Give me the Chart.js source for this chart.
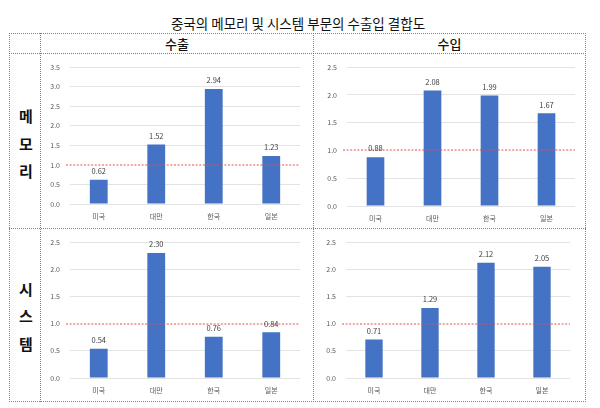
<!DOCTYPE html>
<html><head><meta charset="utf-8">
<script src="https://cdn.jsdelivr.net/npm/chart.js@4/dist/chart.umd.min.js"></script>
<style>
html,body{margin:0;padding:0;background:#fff;width:600px;height:408px;overflow:hidden;font-family:"Noto Sans CJK KR","Noto Sans",sans-serif;}
.hl{position:absolute;height:0;border-top:1px dotted #7f7f7f;}
.vl{position:absolute;width:0;border-left:1px dotted #7f7f7f;}
.title{position:absolute;left:0;width:596px;top:14px;text-align:center;font-size:13.5px;color:#111;line-height:18px;}
.hdr{position:absolute;top:35px;font-size:13px;color:#111;text-align:center;line-height:17px;font-weight:500;}
.row{position:absolute;left:13px;width:26px;text-align:center;font-size:15px;font-weight:700;color:#111;line-height:15px;}
canvas{position:absolute;}
</style></head>
<body>
<div class="title">중국의 메모리 및 시스템 부문의 수출입 결합도</div>
<div class="hl" style="left:9px;width:577px;top:33px"></div>
<div class="hl" style="left:9px;width:577px;top:53px"></div>
<div class="hl" style="left:9px;width:577px;top:228px"></div>
<div class="hl" style="left:9px;width:577px;top:401px"></div>
<div class="vl" style="left:9px;top:33px;height:369px"></div>
<div class="vl" style="left:40px;top:33px;height:369px"></div>
<div class="vl" style="left:313px;top:33px;height:369px"></div>
<div class="vl" style="left:585px;top:33px;height:369px"></div>
<div class="hdr" style="left:41px;width:272px">수출</div>
<div class="hdr" style="left:314px;width:271px">수입</div>
<div class="row" style="top:108px">메</div>
<div class="row" style="top:136px">모</div>
<div class="row" style="top:163px">리</div>
<div class="row" style="top:281px">시</div>
<div class="row" style="top:308px">스</div>
<div class="row" style="top:336px">템</div>

<canvas id="c1" width="254" height="171" style="left:46px;top:53px"></canvas>
<canvas id="c2" width="252" height="173" style="left:323px;top:53px"></canvas>
<canvas id="c3" width="254" height="170" style="left:46px;top:228px"></canvas>
<canvas id="c4" width="248" height="170" style="left:322px;top:228px"></canvas>

<script>
const categories = ['미국','대만','한국','일본'];
const memoryExport = [0.62, 1.52, 2.94, 1.23];
const memoryImport = [0.88, 2.08, 1.99, 1.67];
const systemExport = [0.54, 2.30, 0.76, 0.84];
const systemImport = [0.71, 1.29, 2.12, 2.05];
const referenceLevel = 1.0;
const yMaxMemoryExport = 3.5;
const yMaxOthers = 2.5;

const FONT = '"Noto Sans CJK KR","Noto Sans",sans-serif';

const refLinePlugin = {
  id:'refLine',
  afterDatasetsDraw(chart){
    const {ctx, chartArea, scales} = chart;
    const y = Math.round(scales.y.getPixelForValue(referenceLevel));
    ctx.save();
    ctx.strokeStyle = '#e05050';
    ctx.lineWidth = 1.1;
    ctx.setLineDash([2,1.6]);
    ctx.beginPath();
    ctx.moveTo(chartArea.left - 4, y);
    ctx.lineTo(chartArea.right + 2, y);
    ctx.stroke();
    ctx.restore();
  }
};
const valueLabelPlugin = {
  id:'valueLabels',
  afterDatasetsDraw(chart){
    const {ctx} = chart;
    const meta = chart.getDatasetMeta(0);
    const data = chart.data.datasets[0].data;
    ctx.save();
    ctx.fillStyle = '#404040';
    ctx.font = '7.5px ' + FONT;
    ctx.textAlign = 'center';
    ctx.textBaseline = 'middle';
    meta.data.forEach((bar,i)=>{
      ctx.fillText(data[i].toFixed(2), bar.x, bar.y - 8.5);
    });
    ctx.restore();
  }
};

function makeChart(id, values, ymax, padTop){
  new Chart(document.getElementById(id), {
    type:'bar',
    data:{labels:categories, datasets:[{data:values, backgroundColor:'#4472C4', borderWidth:0,
      categoryPercentage:1.0, barPercentage:0.31}]},
    options:{
      responsive:false, animation:false, devicePixelRatio:1,
      layout:{padding:{top:padTop,left:0,right:0,bottom:0}},
      plugins:{legend:{display:false}, tooltip:{enabled:false}},
      scales:{
        x:{
          grid:{display:false, drawTicks:false},
          border:{display:false},
          ticks:{padding:8, color:'#595959', font:{family:FONT, size:7}},
          afterFit(s){ s.height = 20; }
        },
        y:{
          min:0, max:ymax,
          grid:{color:(c)=> (c.tick && Math.abs(c.tick.value - referenceLevel) < 1e-9) ? 'rgba(0,0,0,0)' : '#e3e3e3',
                lineWidth:1, drawTicks:false},
          border:{display:false},
          ticks:{stepSize:0.5, padding:10, color:'#595959', font:{family:FONT, size:7},
            callback:(v)=>Number(v).toFixed(1)},
          afterFit(s){ s.width = 24; }
        }
      }
    },
    plugins:[refLinePlugin, valueLabelPlugin]
  });
}
makeChart('c1', memoryExport, yMaxMemoryExport, 10);
makeChart('c2', memoryImport, yMaxOthers, 14);
makeChart('c3', systemExport, yMaxOthers, 10);
makeChart('c4', systemImport, yMaxOthers, 13);
</script>
</body></html>
